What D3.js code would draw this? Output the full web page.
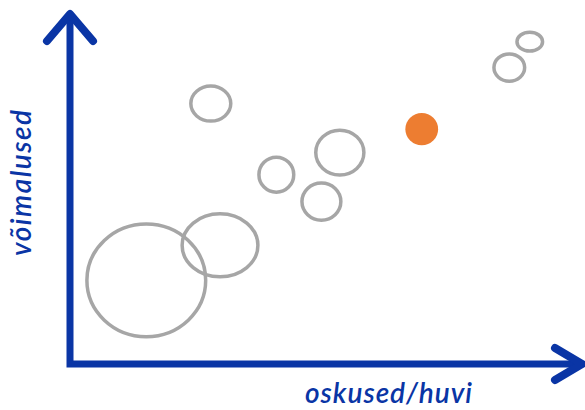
<!DOCTYPE html>
<html>
<head>
<meta charset="utf-8">
<script src="https://cdn.jsdelivr.net/npm/d3@7"></script>
<style>
  body { margin: 0; background: #fff; }
  .label { fill: #0a35a5; font-family: "Lato", "DejaVu Sans", sans-serif; font-style: italic; }
</style>
</head>
<body>
<svg id="chart" width="585" height="410"></svg>
<script>
// bubble data (oskused/huvi vs võimalused), sizes are half-widths in data units
const names   = ["a", "b", "c", "d", "e", "f", "g", "h", "i"];
const skills  = [14.9, 29.3, 27.5, 40.3, 52.7, 49.1, 68.7, 85.8, 89.8];
const chances = [23.9, 33.9, 74.4, 54.1, 60.4, 46.4, 67.1, 84.7, 92.1];
const widths  = [11.6, 7.4, 3.9, 3.4, 4.7, 3.8, 3.2, 3.0, 2.5];
const heights = [16.1, 9.0, 5.0, 5.0, 6.4, 5.3, 4.6, 3.9, 2.7];
const highlight = "g";

const xLabel = "oskused/huvi";
const yLabel = "võimalused";

const BLUE = "#0a35a5";
const svg = d3.select("#chart");

const x = d3.scaleLinear().domain([0, 100]).range([70, 582]);
const y = d3.scaleLinear().domain([0, 100]).range([364, 14]);
// size scales (extent only)
const sx = d3.scaleLinear().domain([0, 100]).range([0, 512]);
const sy = d3.scaleLinear().domain([0, 100]).range([0, 350]);

const data = names.map((n, i) => ({
    name: n, skill: skills[i], chance: chances[i], w: widths[i], h: heights[i]
}));

// bubbles
svg.append("g")
    .selectAll("ellipse")
    .data(data)
    .enter()
    .append("ellipse")
    .attr("cx", d => x(d.skill))
    .attr("cy", d => y(d.chance))
    .attr("rx", d => sx(d.w))
    .attr("ry", d => sy(d.h))
    .attr("fill", d => d.name === highlight ? "#ed7d31" : "none")
    .attr("stroke", d => d.name === highlight ? "none" : "#a6a6a6")
    .attr("stroke-width", 3.5);

// axes as arrows
const axis = svg.append("g")
    .attr("fill", "none")
    .attr("stroke", BLUE)
    .attr("stroke-linecap", "round")
    .attr("stroke-linejoin", "round");

axis.append("path")
    .attr("stroke-linecap", "square")
    .attr("stroke-linejoin", "miter")
    .attr("stroke-width", 7)
    .attr("d", `M${x(0)},${y(99)} L${x(0)},${y(0)} L${x(99)},${y(0)}`);

// arrow heads
axis.append("path")
    .attr("stroke-width", 8)
    .attr("d", `M${x(0) - 23},${y(100) + 27} L${x(0)},${y(100)} L${x(0) + 23},${y(100) + 27}`);
axis.append("path")
    .attr("stroke-width", 8)
    .attr("d", `M${x(100) - 27},${y(0) - 16} L${x(100)},${y(0)} L${x(100) - 27},${y(0) + 16}`);

// axis titles
svg.append("text")
    .attr("class", "label")
    .attr("x", 305)
    .attr("y", 403)
    .attr("font-size", 28)
    .attr("font-weight", 600)
    .attr("textLength", 167)
    .text(xLabel);

svg.append("text")
    .attr("class", "label")
    .attr("transform", "translate(31,256) rotate(-90)")
    .attr("font-size", 28)
    .attr("font-weight", 600)
    .attr("textLength", 146)
    .text(yLabel);
</script>
</body>
</html>
